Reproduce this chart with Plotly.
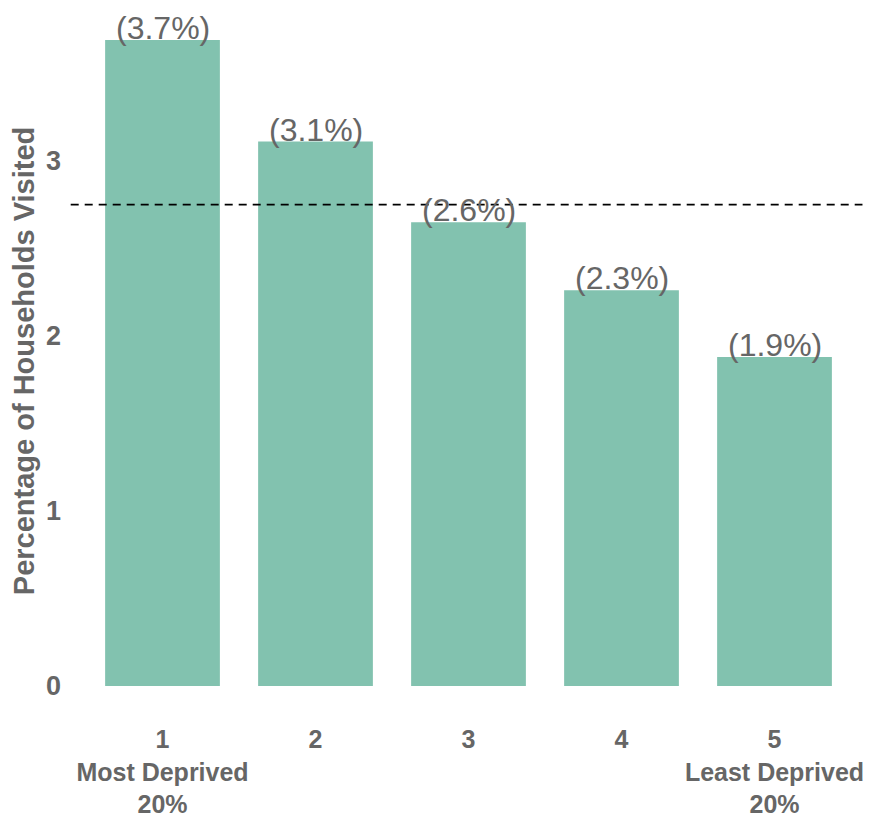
import plotly.graph_objects as go

# Deprivation quintiles (1 = most deprived, 5 = least deprived)
quintiles = [1, 2, 3, 4, 5]
tick_labels = [
    "1<br>Most Deprived<br>20%",
    "2",
    "3",
    "4",
    "5<br>Least Deprived<br>20%",
]
# Share of households visited in each quintile (%)
pct_visited = [3.69, 3.11, 2.649, 2.26, 1.88]
# Overall average across all households (%)
overall_avg = 2.75

grey = "#666666"
font_family = "Liberation Sans, Arial, sans-serif"

fig = go.Figure(
    go.Bar(
        x=quintiles,
        y=pct_visited,
        marker=dict(color="#82C2AF", line=dict(width=0)),
        width=0.75,
        hoverinfo="skip",
    )
)

# Value labels sitting on top of each bar
for q, v in zip(quintiles, pct_visited):
    fig.add_annotation(
        x=q,
        y=v,
        text=f"({v:.1f}%)",
        showarrow=False,
        yanchor="bottom",
        yshift=-8,
        font=dict(family=font_family, size=32, color=grey),
    )

# Vertical axis title
fig.add_annotation(
    xref="paper",
    yref="paper",
    x=-0.081,
    y=0.482,
    text="Percentage of Households Visited",
    textangle=-90,
    showarrow=False,
    xanchor="center",
    yanchor="middle",
    font=dict(family=font_family, size=29, color=grey, weight="bold"),
)

# Dashed reference line for the overall average
fig.add_shape(
    type="line",
    xref="paper",
    yref="y",
    x0=-0.02,
    x1=1.015,
    y0=overall_avg,
    y1=overall_avg,
    line=dict(color="black", width=1.8, dash="8px,6px"),
    layer="above",
)

fig.update_layout(
    width=870,
    height=821,
    margin=dict(l=86, r=19, t=12, b=135),
    plot_bgcolor="white",
    paper_bgcolor="white",
    showlegend=False,
    font=dict(family=font_family, color=grey),
    bargap=0.25,
)

fig.update_xaxes(
    range=[0.5, 5.5],
    tickmode="array",
    tickvals=quintiles,
    ticktext=tick_labels,
    tickfont=dict(family=font_family, size=25, color=grey, weight="bold"),
    showgrid=False,
    zeroline=False,
    showline=False,
    ticks="",
    ticklabelstandoff=36,
    ticklabeloverflow="allow",
    automargin=False,
)

fig.update_yaxes(
    range=[0, 3.85],
    tickvals=[0, 1, 2, 3],
    tickfont=dict(family=font_family, size=27, color=grey, weight="bold"),
    showgrid=False,
    zeroline=False,
    showline=False,
    ticks="",
    ticklabelstandoff=24,
    automargin=False,
)

fig.write_html("out.html")
